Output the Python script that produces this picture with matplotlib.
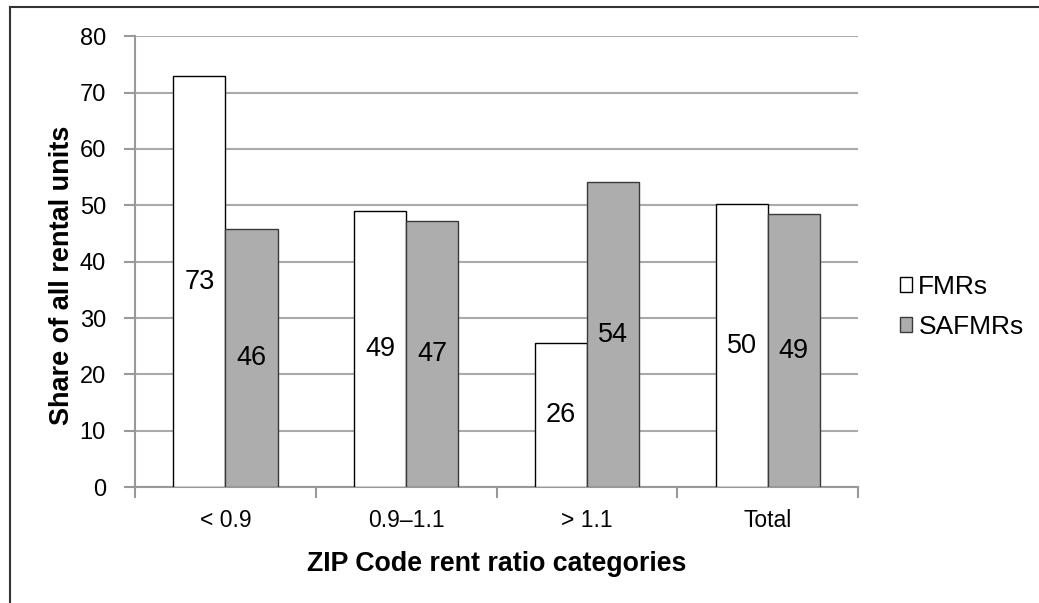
import matplotlib.pyplot as plt
from matplotlib.lines import Line2D
import numpy as np

categories = ['< 0.9', '0.9\u20131.1', '> 1.1', 'Total']
fmrs = [72.9, 49.0, 25.6, 50.2]
safmrs = [45.8, 47.2, 54.1, 48.5]
fmr_labels = ['73', '49', '26', '50']
safmr_labels = ['46', '47', '54', '49']

plt.rcParams['font.family'] = ['Liberation Sans', 'DejaVu Sans']

fig = plt.figure(figsize=(10.39, 6.03), dpi=100)
ax = fig.add_axes([0.130, 0.192, 0.696, 0.748])

x = np.arange(len(categories))
w = 0.288
b1 = ax.bar(x - w / 2, fmrs, w, color='white', edgecolor='black', linewidth=1, label='FMRs', zorder=3)
b2 = ax.bar(x + w / 2, safmrs, w, color='#adadad', edgecolor='#3a3a3a', linewidth=1, label='SAFMRs', zorder=3)

for bars, labs in ((b1, fmr_labels), (b2, safmr_labels)):
    for rect, lab in zip(bars, labs):
        ax.text(rect.get_x() + rect.get_width() / 2, rect.get_height() / 2, lab,
                ha='center', va='center', fontsize=19.5, zorder=4)

ax.set_xlim(-0.5, len(categories) - 0.5)
ax.set_ylim(0, 80)
ax.set_yticks(range(0, 81, 10))
ax.set_xticks(x)
ax.set_xticklabels(categories, fontsize=16.5)
ax.set_xticks(np.arange(-0.5, len(categories)), minor=True)
ax.tick_params(axis='x', which='major', length=0, pad=16)
ax.tick_params(axis='x', which='minor', length=8, color='#999999', width=1.5)
ax.tick_params(axis='y', length=8, color='#999999', width=1.5, labelsize=17, pad=13)

ax.grid(axis='y', color='#aaaaaa', linewidth=1.5, zorder=0)
for s in ['top', 'right']:
    ax.spines[s].set_visible(False)
ax.spines['left'].set_color('#999999')
ax.spines['bottom'].set_color('#999999')
ax.spines['left'].set_linewidth(1.5)
ax.spines['bottom'].set_linewidth(1.5)

ax.set_xlabel('ZIP Code rent ratio categories', fontsize=19.3, fontweight='bold', labelpad=13)
ax.set_ylabel('Share of all rental units', fontsize=19.5, fontweight='bold')
ax.yaxis.set_label_coords(-0.083, 0.47)

fig.legend(handles=[b1, b2], loc='center left', bbox_to_anchor=(0.843, 0.491), frameon=False,
           fontsize=19, handlelength=0.48, handleheight=0.48, handletextpad=0.23, labelspacing=0.6)

# outer frame (only top and left edges show)
fig.add_artist(Line2D([0.0097, 0.0097], [0, 0.988], color='#333333', linewidth=1.5, transform=fig.transFigure))
fig.add_artist(Line2D([0.0097, 1.0], [0.988, 0.988], color='#333333', linewidth=1.5, transform=fig.transFigure))

fig.savefig('out.png', dpi=100)
